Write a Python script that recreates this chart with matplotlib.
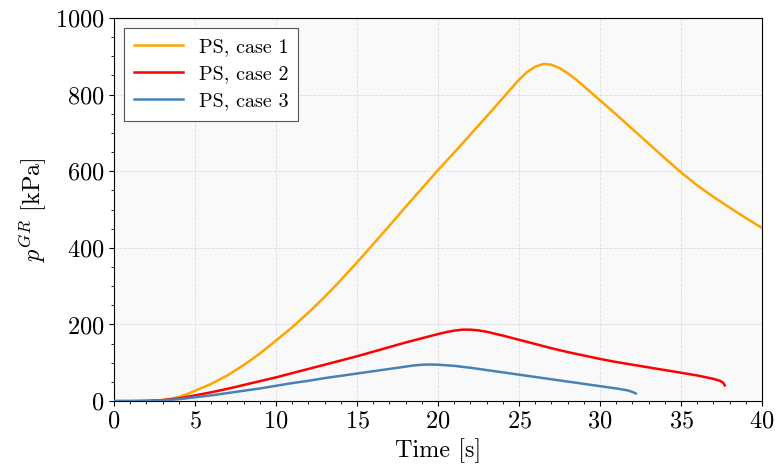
import matplotlib as mpl
import matplotlib.pyplot as plt
from matplotlib.ticker import MultipleLocator

mpl.rcParams.update(
    {
        "font.family": "serif",
        "font.serif": ["cmr10", "DejaVu Serif"],
        "mathtext.fontset": "cm",
        "axes.unicode_minus": False,
        "axes.formatter.use_mathtext": True,
        "font.size": 17.5,
        "xtick.labelsize": 17.5,
        "ytick.labelsize": 17.5,
        "legend.fontsize": 14.5,
    }
)

# case 1
t1 = [0, 1, 2, 2.5, 3, 3.5, 4, 4.5, 5, 5.5, 6, 7, 8, 9, 10, 11, 12, 13, 14, 15,
      16, 17, 18, 19, 20, 21, 22, 23, 24, 25, 25.5, 26, 26.5, 27, 27.5, 28, 28.5, 29,
      30, 31, 32, 33, 34, 35, 36, 37, 38, 39, 40]
p1 = [0, 0, 0.5, 1, 3, 6, 11, 18, 27, 36, 45, 67, 94, 124, 158, 193, 231, 272, 316, 362,
      410, 458, 507, 555, 603, 649, 696, 743, 791, 839, 859, 873, 880, 878, 869, 856, 840, 822,
      785, 748, 710, 672, 634, 597, 563, 533, 505, 478, 452]

# case 2
t2 = [0, 1, 2, 3, 4, 5, 6, 7, 8, 9, 10, 11, 12, 13, 14, 15, 16, 17, 18, 19, 20,
      20.5, 21, 21.5, 22, 22.5, 23, 24, 25, 26, 27, 28, 29, 30, 31, 32, 33, 34, 35,
      36, 37, 37.4, 37.6, 37.7]
p2 = [0, 0, 0.5, 2.5, 7, 15, 23, 32, 42, 52, 62, 73, 84, 95, 106, 117, 129, 141, 153, 164, 175,
      180, 184, 186.5, 186.5, 184.5, 181, 171, 160, 149, 138, 128, 119, 110, 102, 95, 88, 81, 74,
      67, 58, 53, 48, 41]

# case 3
t3 = [0, 1, 2, 3, 4, 5, 6, 7, 8, 9, 10, 11, 12, 13, 14, 15, 16, 17, 18, 18.5, 19,
      19.5, 20, 21, 22, 23, 24, 25, 26, 27, 28, 29, 30, 31, 31.7, 32.0, 32.2]
p3 = [0, 0, 0.3, 2, 5, 10, 15, 21, 27, 33, 40, 47, 53, 60, 66, 72, 78, 84, 90, 93, 95,
      95.5, 95, 92, 87, 81, 75, 69, 63, 57, 51, 45, 39, 33, 28, 24, 20]

labels = ["PS, case 1", "PS, case 2", "PS, case 3"]
colors = ["#FFA500", "#FF0000", "#4682B4"]

fig = plt.figure(figsize=(7.76, 4.73), dpi=100)
ax = fig.add_axes([0.147, 0.152, 0.835, 0.810])
ax.set_facecolor("#f9f9f9")

for t, p, lab, c in zip([t1, t2, t3], [p1, p2, p3], labels, colors):
    ax.plot(t, p, color=c, lw=1.8, label=lab, zorder=3)

ax.set_xlim(0, 40)
ax.set_ylim(0, 1000)
ax.xaxis.set_major_locator(MultipleLocator(5))
ax.xaxis.set_minor_locator(MultipleLocator(1))
ax.yaxis.set_major_locator(MultipleLocator(200))
ax.yaxis.set_minor_locator(MultipleLocator(50))
ax.grid(True, which="major", linestyle="--", linewidth=0.6, color="#dcdcdc", zorder=0)
ax.set_axisbelow(True)

ax.set_xlabel("Time [s]", labelpad=4)
ax.set_ylabel(r"$p^{GR}$ [kPa]")

leg = ax.legend(loc="upper left", fancybox=False, framealpha=1, edgecolor="#555555",
                handlelength=2.4, borderpad=0.5, labelspacing=0.45)
leg.get_frame().set_linewidth(0.8)

fig.savefig("out.png", dpi=100)
